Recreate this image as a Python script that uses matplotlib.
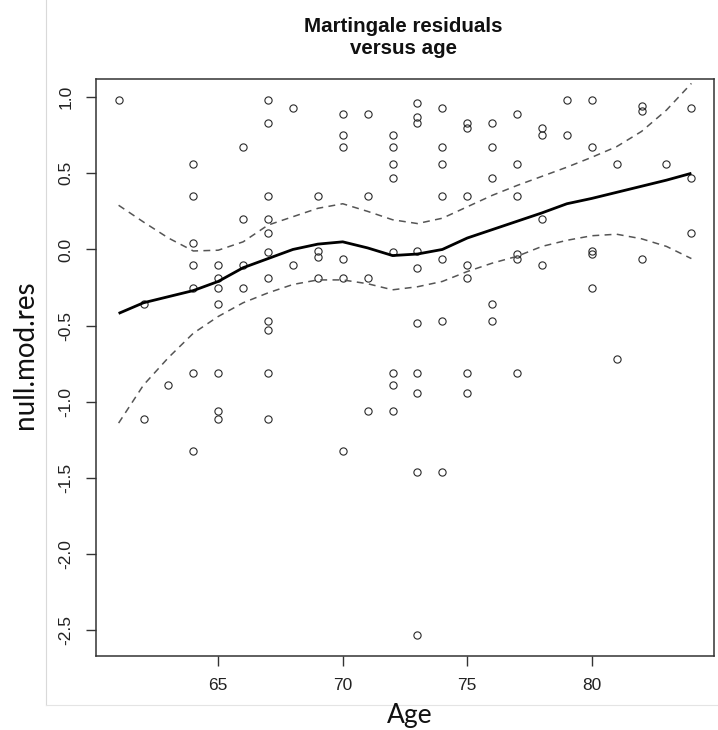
import matplotlib
matplotlib.use("Agg")
import matplotlib.pyplot as plt
from matplotlib.lines import Line2D

# ---- data ----
ages = [61,
        62, 62,
        63,
        64, 64, 64, 64, 64, 64, 64,
        65, 65, 65, 65, 65, 65, 65,
        66, 66, 66, 66,
        67, 67, 67, 67, 67, 67, 67, 67, 67, 67, 67,
        68, 68,
        69, 69, 69, 69,
        70, 70, 70, 70, 70, 70,
        71, 71, 71, 71,
        72, 72, 72, 72, 72, 72, 72, 72,
        73, 73, 73, 73, 73, 73, 73, 73, 73, 73,
        74, 74, 74, 74, 74, 74, 74,
        75, 75, 75, 75, 75, 75, 75,
        76, 76, 76, 76, 76,
        77, 77, 77, 77, 77, 77,
        78, 78, 78, 78,
        79, 79,
        80, 80, 80, 80, 80,
        81, 81,
        82, 82, 82,
        83,
        84, 84, 84]
residuals = [0.98,
             -0.36, -1.11,
             -0.89,
             0.56, 0.35, 0.04, -0.10, -0.25, -0.81, -1.32,
             -0.10, -0.19, -0.25, -0.36, -0.81, -1.06, -1.11,
             0.67, 0.20, -0.10, -0.25,
             0.98, 0.83, 0.35, 0.20, 0.11, -0.02, -0.19, -0.47, -0.53, -0.81, -1.11,
             0.93, -0.10,
             0.35, -0.01, -0.05, -0.19,
             0.89, 0.75, 0.67, -0.06, -0.19, -1.32,
             0.89, 0.35, -0.19, -1.06,
             0.75, 0.67, 0.56, 0.47, -0.02, -0.81, -0.89, -1.06,
             0.96, 0.87, 0.83, -0.01, -0.12, -0.48, -0.81, -0.94, -1.46, -2.53,
             0.93, 0.67, 0.56, 0.35, -0.06, -0.47, -1.46,
             0.83, 0.80, 0.35, -0.10, -0.19, -0.81, -0.94,
             0.83, 0.67, 0.47, -0.36, -0.47,
             0.89, 0.56, 0.35, -0.03, -0.06, -0.81,
             0.80, 0.75, 0.20, -0.10,
             0.98, 0.75,
             0.98, 0.67, -0.01, -0.03, -0.25,
             0.56, -0.72,
             0.94, 0.91, -0.06,
             0.56,
             0.93, 0.47, 0.11]

curve_age = [61, 62, 63, 64, 65, 66, 67, 68, 69, 70, 71, 72,
             73, 74, 75, 76, 77, 78, 79, 80, 81, 82, 83, 84]
fit = [-0.42, -0.35, -0.31, -0.27, -0.21, -0.12, -0.06, 0.00, 0.035, 0.05, 0.01, -0.04,
       -0.03, 0.00, 0.075, 0.13, 0.185, 0.24, 0.30, 0.335, 0.375, 0.415, 0.455, 0.50]
upper = [0.29, 0.18, 0.075, -0.01, -0.005, 0.05, 0.16, 0.215, 0.27, 0.30, 0.25, 0.195,
         0.17, 0.205, 0.28, 0.355, 0.42, 0.48, 0.54, 0.605, 0.675, 0.775, 0.915, 1.09]
lower = [-1.14, -0.89, -0.71, -0.55, -0.44, -0.35, -0.285, -0.23, -0.20, -0.20, -0.225, -0.265,
         -0.245, -0.21, -0.145, -0.09, -0.045, 0.02, 0.06, 0.09, 0.10, 0.07, 0.02, -0.06]

x_ticks = [65, 70, 75, 80]
y_ticks = [-2.5, -2.0, -1.5, -1.0, -0.5, 0.0, 0.5, 1.0]

# ---- figure ----
W, H = 718, 730
fig = plt.figure(figsize=(W / 100, H / 100), dpi=100)
ax = fig.add_axes([95.7 / W, 1 - 655.7 / H, (714.3 - 95.7) / W, (655.7 - 79) / H])

ax.plot(ages, residuals, linestyle="none", marker="o", markersize=5.2,
        markerfacecolor="none", markeredgecolor="#2a2a2a", markeredgewidth=0.8)
ax.plot(curve_age, fit, color="black", lw=2.0, solid_capstyle="butt")
ax.plot(curve_age, upper, color="#555555", lw=1.1, linestyle=(0, (4.5, 3.5)))
ax.plot(curve_age, lower, color="#555555", lw=1.1, linestyle=(0, (4.5, 3.5)))

ax.set_xlim(60.08, 84.92)
ax.set_ylim(-2.667, 1.119)
ax.set_xticks(x_ticks)
ax.set_xticklabels([str(v) for v in x_ticks])
ax.set_yticks(y_ticks)
ax.set_yticklabels([f"{v:.1f}" for v in y_ticks], rotation=90, va="center")

for s in ax.spines.values():
    s.set_color("#333333")
    s.set_linewidth(1.1)
ax.tick_params(direction="out", length=7, width=1.0, color="#333333",
               labelsize=12.5, labelcolor="#222222", pad=9,
               labelfontfamily="Liberation Sans")

fig.text(403.5 / W, 1 - 37.5 / H, "Martingale residuals\nversus age",
         ha="center", va="center", fontsize=14.8, fontweight="bold",
         family="Liberation Sans", linespacing=1.15, color="#111111")

fig.text(410 / W, 1 - 716 / H, "Age", ha="center", va="center",
         fontsize=19, family="Lato", color="#111111")
fig.text(25 / W, 1 - 355 / H, "null.mod.res", ha="center", va="center",
         rotation=90, fontsize=20, family="Lato", color="#111111")

# light frame lines of the surrounding document
fig.add_artist(Line2D([45.7 / W, 45.7 / W], [1.0, 1 - 705 / H],
                      transform=fig.transFigure, color="#d9d9d9", lw=0.8))
fig.add_artist(Line2D([45.7 / W, 1.0], [1 - 705 / H, 1 - 705 / H],
                      transform=fig.transFigure, color="#e4e4e4", lw=0.8))

fig.savefig("out.png", dpi=100)
